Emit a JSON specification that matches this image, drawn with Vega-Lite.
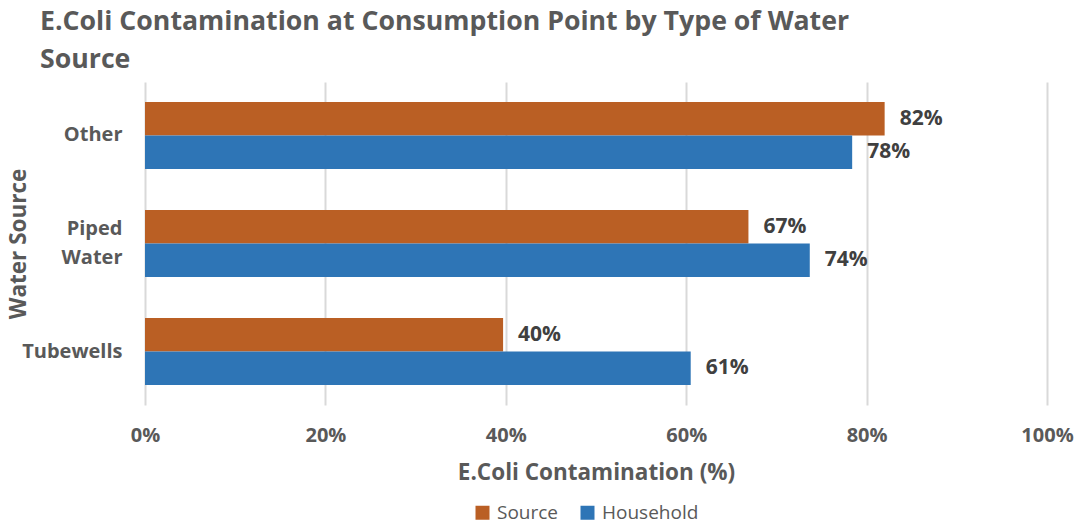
{
  "$schema": "https://vega.github.io/schema/vega-lite/v6.json",
  "width": 902,
  "height": 323,
  "autosize": {"type": "none"},
  "padding": {"left": 145, "top": 82, "right": 32, "bottom": 122},
  "background": "white",
  "title": {
    "text": ["E.Coli Contamination at Consumption Point by Type of Water", "Source"],
    "anchor": "start",
    "frame": "group",
    "dx": -105,
    "offset": 8,
    "fontSize": 26.7,
    "fontWeight": "bold",
    "font": "Open Sans",
    "color": "#595959",
    "lineHeight": 38
  },
  "data": {
    "values": [
      {"source": "Other", "series": "Source", "value": 0.82},
      {"source": "Other", "series": "Household", "value": 0.784},
      {"source": "Piped Water", "series": "Source", "value": 0.669},
      {"source": "Piped Water", "series": "Household", "value": 0.737},
      {"source": "Tubewells", "series": "Source", "value": 0.397},
      {"source": "Tubewells", "series": "Household", "value": 0.605}
    ]
  },
  "encoding": {
    "y": {
      "field": "source",
      "type": "nominal",
      "sort": ["Other", "Piped Water", "Tubewells"],
      "scale": {"paddingInner": 0.38, "paddingOuter": 0.185},
      "axis": {
        "title": "Water Source",
        "labelExpr": "split(datum.label, ' ')",
        "labelFontSize": 20,
        "labelFontWeight": "bold",
        "labelColor": "#595959",
        "labelFont": "Open Sans",
        "labelPadding": 23,
        "labelLineHeight": 29,
        "labelOffset": {"condition": {"test": "datum.value == 'Piped Water'", "value": -14.5}, "value": 0},
        "ticks": false,
        "domain": false,
        "titleFontSize": 22.5,
        "titleFontWeight": "bold",
        "titleColor": "#595959",
        "titleFont": "Open Sans",
        "titleX": -127,
        "titleY": 161.5,
        "titleAngle": -90,
        "titleAlign": "center",
        "titleBaseline": "middle"
      }
    },
    "yOffset": {
      "field": "series",
      "type": "nominal",
      "sort": ["Source", "Household"],
      "scale": {"paddingInner": 0, "paddingOuter": 0}
    },
    "x": {
      "field": "value",
      "type": "quantitative",
      "scale": {"domain": [0, 1], "nice": false},
      "axis": {
        "title": "E.Coli Contamination (%)",
        "values": [0, 0.2, 0.4, 0.6, 0.8, 1],
        "format": ".0%",
        "grid": true,
        "gridColor": "#d9d9d9",
        "gridWidth": 2,
        "domain": false,
        "ticks": false,
        "labelFlush": false,
        "labelFontSize": 20,
        "labelFontWeight": "bold",
        "labelColor": "#595959",
        "labelFont": "Open Sans",
        "labelPadding": 20,
        "titleFontSize": 22.5,
        "titleFontWeight": "bold",
        "titleColor": "#595959",
        "titleFont": "Open Sans",
        "titlePadding": 16
      }
    }
  },
  "layer": [
    {
      "mark": {"type": "bar"},
      "encoding": {
        "color": {
          "field": "series",
          "type": "nominal",
          "sort": ["Source", "Household"],
          "scale": {"domain": ["Source", "Household"], "range": ["#BA5F24", "#2E75B6"]},
          "legend": {
            "title": null,
            "orient": "none",
            "legendX": 328,
            "legendY": 421,
            "direction": "horizontal",
            "symbolType": "square",
            "symbolSize": 196,
            "symbolStrokeWidth": 0,
            "labelFontSize": 19,
            "labelColor": "#595959",
            "labelFont": "Open Sans",
            "labelOffset": 5,
            "columnPadding": 19
          }
        }
      }
    },
    {
      "mark": {
        "type": "text",
        "align": "left",
        "baseline": "middle",
        "dx": 15,
        "fontSize": 21,
        "fontWeight": "bold",
        "font": "Open Sans",
        "color": "#404040"
      },
      "encoding": {
        "text": {"field": "value", "type": "quantitative", "format": ".0%"}
      }
    }
  ],
  "config": {
    "view": {"stroke": null}
  }
}
